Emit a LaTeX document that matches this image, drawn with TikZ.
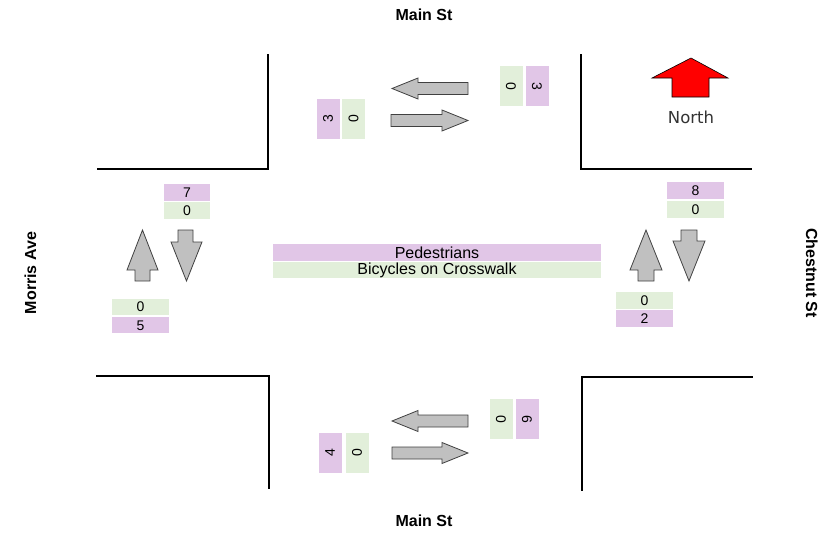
\documentclass[tikz,border=0pt]{standalone}
\usepackage{fontspec}
\setmainfont{Liberation Sans}
\newfontfamily\northfont{DejaVu Sans}
\usepackage{tikz}
\usetikzlibrary{positioning}
\definecolor{pedpink}{HTML}{E1C6E7}
\definecolor{bikegreen}{HTML}{E2EFDA}
\definecolor{arrowgray}{HTML}{C0C0C0}
\tikzset{
     cnt/.style={inner sep=0pt, minimum width=57pt, minimum height=17pt, font=\fontsize{14}{14}\selectfont},
     ped/.style={cnt, fill=pedpink},
     bike/.style={cnt, fill=bikegreen},
     vped/.style={ped, minimum width=40pt, minimum height=23pt},
     vbike/.style={bike, minimum width=40pt, minimum height=23pt},
     street/.style={font=\fontsize{16}{16}\selectfont\bfseries}
     }
\tikzstyle{curb} = [draw, line width=2pt, line cap=rect]
\tikzstyle{flow} = [draw=black!75, fill=arrowgray, line width=0.8pt, line join=miter]

\begin{document}
\begin{tikzpicture}[x=1pt, y=-1pt]
    \useasboundingbox (0,0) rectangle (820,533);
    \clip (0,0) rectangle (820,533);

    % street names
    \node [street] (mainN) at (424,15) {Main St};
    \node [street] (mainS) at (424,521) {Main St};
    \node [street, rotate=90, anchor=base] (morris) at (36,273) {Morris Ave};
    \node [street, rotate=-90, anchor=base] (chestnut) at (806,273) {Chestnut St};

    % curbs
    \path [curb] (98,169) -- (268,169) -- (268,55);
    \path [curb] (581,55) -- (581,169) -- (751,169);
    \path [curb] (97,376) -- (269,376) -- (269,488);
    \path [curb] (582,490) -- (582,377) -- (752,377);

    % north arrow
    \draw [fill=red, line width=0.6pt] (691,58) -- (728,78) -- (709,78) -- (709,97)
        -- (672,97) -- (672,78) -- (652,78) -- cycle;
    \node [font=\northfont\fontsize{16.5}{16.5}\selectfont, text=black!80] (north) at (691,117) {North};

    % Main St north leg
    \path [flow] (392,88.5) -- (418,78) -- (418,82.5) -- (468,82.5) -- (468,94.5) -- (418,94.5) -- (418,99) -- cycle;
    \path [flow] (391,114.5) -- (442,114.5) -- (442,110) -- (468,120.5) -- (442,131) -- (442,126.5) -- (391,126.5) -- cycle;
    \node [vped, rotate=90] (pedNW) at (328,118.5) {3};
    \node [vbike, rotate=90] (bikeNW) at (353.5,118.5) {0};
    \node [vbike, rotate=-90] (bikeNE) at (511,86) {0};
    \node [vped, rotate=-90] (pedNE) at (537,86) {3};

    % Main St south leg
    \path [flow] (392,421) -- (418,410.5) -- (418,415) -- (468,415) -- (468,427) -- (418,427) -- (418,431.5) -- cycle;
    \path [flow] (392,447) -- (442,447) -- (442,442.5) -- (468,453) -- (442,463.5) -- (442,459) -- (392,459) -- cycle;
    \node [vped, rotate=90] (pedSW) at (330,453) {4};
    \node [vbike, rotate=90] (bikeSW) at (357,453) {0};
    \node [vbike, rotate=-90] (bikeSE) at (501,419) {0};
    \node [vped, rotate=-90] (pedSE) at (527,419) {6};

    % Morris Ave
    \path [flow] (142.5,230) -- (158,270) -- (150,270) -- (150,281) -- (135,281) -- (135,270) -- (127,270) -- cycle;
    \path [flow] (178,230) -- (193,230) -- (193,242) -- (202,242) -- (186.5,281) -- (171,242) -- (178,242) -- cycle;
    \node [ped, minimum width=46pt] (pedWN) at (187,192.5) {7};
    \node [bike, minimum width=46pt, below=1pt of pedWN] (bikeWN) {0};
    \node [bike, minimum height=16pt] (bikeWS) at (140.5,307) {0};
    \node [ped, minimum height=16pt, below=2pt of bikeWS] (pedWS) {5};

    % Chestnut St
    \path [flow] (646,230) -- (662,270) -- (654,270) -- (654,281) -- (638,281) -- (638,270) -- (630,270) -- cycle;
    \path [flow] (681,230) -- (697,230) -- (697,241) -- (705,241) -- (689,281) -- (673,241) -- (681,241) -- cycle;
    \node [ped] (pedEN) at (695.5,190.5) {8};
    \node [bike, below=2pt of pedEN] (bikeEN) {0};
    \node [bike] (bikeES) at (644.5,300.5) {0};
    \node [ped, below=1pt of bikeES] (pedES) {2};

    % legend
    \node [ped, minimum width=328pt, font=\fontsize{16}{16}\selectfont] (legPed) at (437,252.5) {Pedestrians};
    \node [bike, minimum width=328pt, minimum height=16pt, font=\fontsize{16}{16}\selectfont, below=1pt of legPed] (legBike) {Bicycles on Crosswalk};
\end{tikzpicture}
\end{document}
